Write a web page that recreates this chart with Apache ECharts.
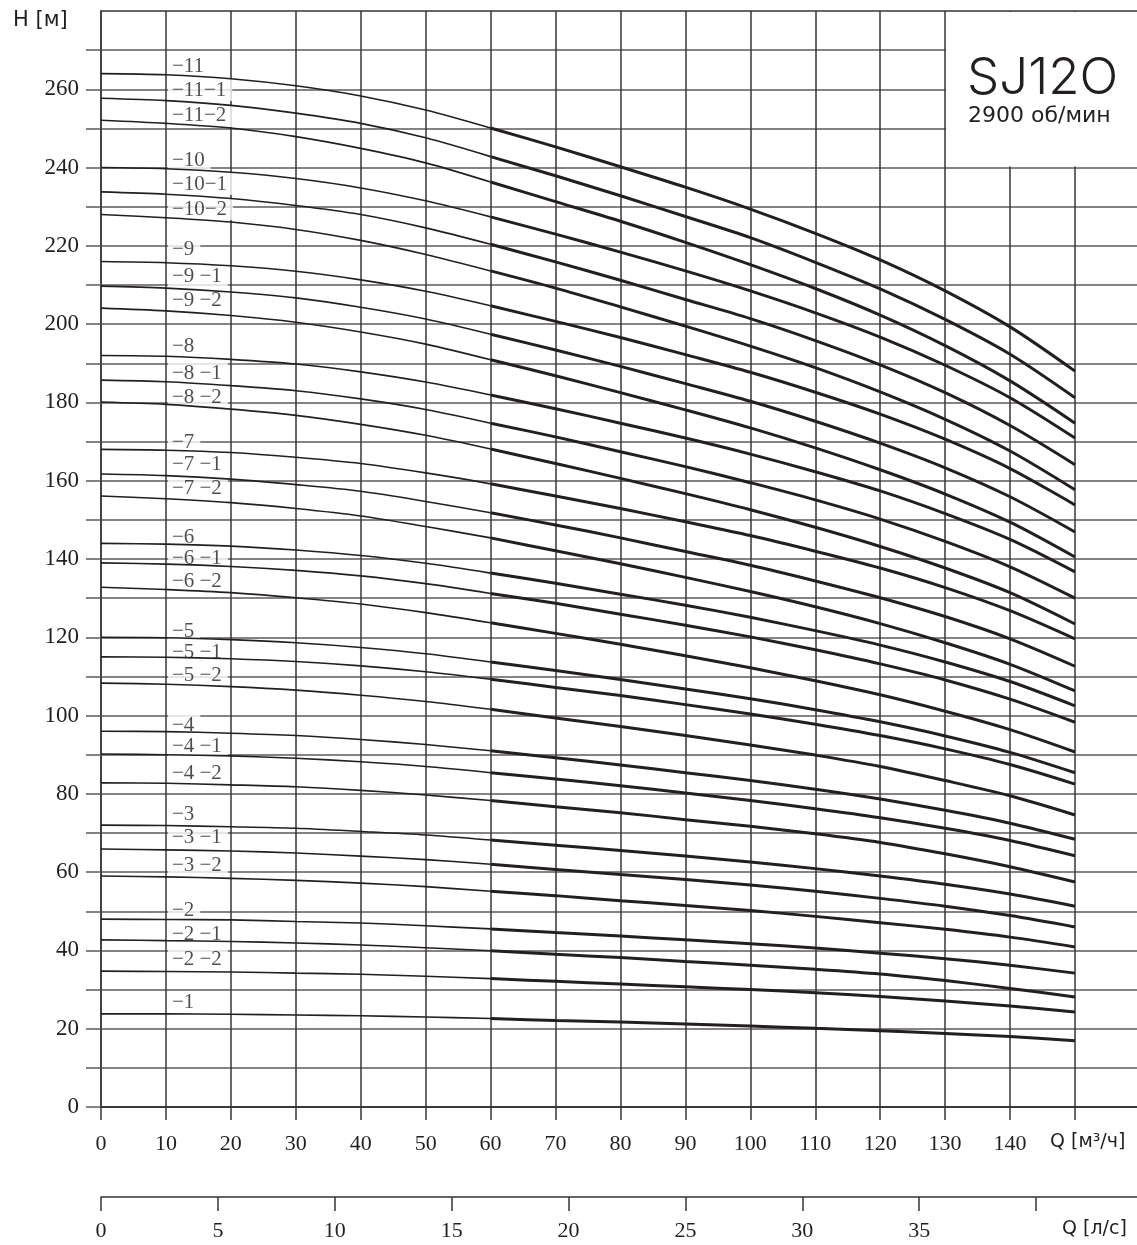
<!DOCTYPE html>
<html><head><meta charset="utf-8">
<script src="https://cdn.jsdelivr.net/npm/echarts@6/dist/echarts.min.js"></script>
<style>html,body{margin:0;padding:0;background:#fff}#c{width:1137px;height:1245px}</style>
</head><body><div id="c"></div>
<script>
// ---- data ----
const Q = [0, 10, 20, 30, 40, 50, 60, 70, 80, 90, 100, 110, 120, 130, 140, 150];   // m3/h
const curveNames = ['−11','−11−1','−11−2','−10','−10−1','−10−2','−9','−9 −1','−9 −2','−8','−8 −1','−8 −2',
  '−7','−7 −1','−7 −2','−6','−6 −1','−6 −2','−5','−5 −1','−5 −2','−4','−4 −1','−4 −2','−3','−3 −1','−3 −2',
  '−2','−2 −1','−2 −2','−1'];
const H_11   = [264, 263.7, 262.7, 260.9, 258.3, 254.7, 250.1, 245.3, 240.2, 235, 229.4, 223.2, 216.4, 208.5, 199.3, 188];
const H_11_1 = [257.7, 257.1, 255.9, 253.9, 251.3, 247.6, 242.8, 237.9, 232.8, 227.5, 222.1, 215.8, 209, 201.2, 192.3, 181.2];
const H_11_2 = [252.1, 251.3, 250.1, 247.9, 244.9, 241.2, 236.3, 231.3, 226.3, 220.9, 215.2, 209.1, 202.3, 194.5, 185.5, 174.7];
const H_10   = [240, 239.7, 238.8, 237.2, 234.8, 231.5, 227.4, 223, 218.4, 213.6, 208.5, 202.9, 196.7, 189.5, 181.2, 170.9];
const H_10_1 = [233.8, 233.2, 232.1, 230.3, 228, 224.6, 220.4, 215.9, 211.2, 206.3, 201.4, 195.8, 189.6, 182.5, 174.1, 164.1];
const H_10_2 = [228, 227.2, 226.1, 224.2, 221.4, 217.8, 213.6, 209.2, 204.4, 199.5, 194.4, 188.9, 182.7, 175.7, 167.6, 157.7];
const H_9    = [216, 215.7, 214.9, 213.5, 211.3, 208.4, 204.7, 200.7, 196.6, 192.2, 187.7, 182.6, 177, 170.6, 163.1, 153.8];
const H_9_1  = [209.7, 209.2, 208.2, 206.7, 204.3, 201.3, 197.4, 193.4, 189.2, 184.8, 180.3, 175.2, 169.6, 163.3, 155.9, 146.9];
const H_9_2  = [204.1, 203.4, 202.2, 200.5, 198, 194.9, 190.9, 186.8, 182.5, 178.1, 173.5, 168.4, 162.8, 156.6, 149.4, 140.5];
const H_8    = [192, 191.8, 191, 189.8, 187.8, 185.2, 181.9, 178.4, 174.7, 170.9, 166.8, 162.3, 157.4, 151.6, 145, 136.7];
const H_8_1  = [185.7, 185.3, 184.3, 183, 180.9, 178.2, 174.7, 171.2, 167.4, 163.6, 159.5, 155.1, 150.2, 144.5, 138, 130];
const H_8_2  = [180.1, 179.5, 178.3, 176.7, 174.4, 171.6, 168.1, 164.4, 160.6, 156.7, 152.6, 148.1, 143.2, 137.7, 131.4, 123.4];
const H_7    = [168, 167.8, 167.2, 166, 164.4, 162, 159.2, 156.1, 152.9, 149.5, 146, 142, 137.7, 132.7, 126.8, 119.6];
const H_7_1  = [161.7, 161.3, 160.4, 159, 157.3, 154.7, 151.8, 148.7, 145.4, 141.9, 138.4, 134.4, 130.1, 125.3, 119.6, 112.6];
const H_7_2  = [156.1, 155.4, 154.4, 152.9, 151, 148.3, 145.4, 142.1, 138.8, 135.3, 131.7, 127.8, 123.5, 118.6, 113.1, 106.3];
const H_6    = [144, 143.8, 143.3, 142.3, 140.9, 138.9, 136.4, 133.8, 131, 128.2, 125.1, 121.7, 118, 113.7, 108.7, 102.5];
const H_6_1  = [139, 138.7, 138.1, 137.1, 135.7, 133.7, 131.2, 128.7, 125.9, 123.1, 120.1, 116.8, 113.2, 109.1, 104.2, 98.3];
const H_6_2  = [132.8, 132.2, 131.4, 130.1, 128.5, 126.3, 123.7, 121, 118.2, 115.3, 112.2, 108.9, 105.3, 101.1, 96.4, 90.7];
const H_5    = [120, 119.9, 119.4, 118.6, 117.4, 115.8, 113.7, 111.5, 109.2, 106.8, 104.3, 101.5, 98.4, 94.8, 90.6, 85.4];
const H_5_1  = [115, 114.9, 114.5, 113.8, 112.7, 111.2, 109.3, 107.2, 105.1, 102.8, 100.4, 97.8, 94.9, 91.5, 87.5, 82.5];
const H_5_2  = [108.3, 108, 107.4, 106.5, 105.2, 103.6, 101.6, 99.4, 97.2, 94.9, 92.5, 89.9, 87, 83.4, 79.5, 74.6];
const H_4    = [96, 95.9, 95.5, 94.9, 93.9, 92.6, 91, 89.2, 87.4, 85.4, 83.4, 81.2, 78.7, 75.8, 72.5, 68.4];
const H_4_1  = [90.2, 90, 89.7, 89.1, 88.2, 87, 85.4, 83.8, 82.1, 80.2, 78.3, 76.2, 73.9, 71.2, 68.1, 64.2];
const H_4_2  = [82.8, 82.7, 82.3, 81.8, 80.9, 79.7, 78.3, 76.7, 75.2, 73.4, 71.7, 69.8, 67.6, 64.7, 61.4, 57.5];
const H_3    = [72, 71.9, 71.6, 71.2, 70.4, 69.5, 68.2, 66.9, 65.5, 64.1, 62.6, 60.9, 59, 56.9, 54.4, 51.3];
const H_3_1  = [65.9, 65.7, 65.4, 64.9, 64.1, 63.2, 62, 60.7, 59.4, 58.1, 56.7, 55.1, 53.3, 51.3, 48.9, 46];
const H_3_2  = [59, 58.8, 58.4, 57.9, 57.2, 56.3, 55.1, 54, 52.7, 51.5, 50.2, 48.7, 47.1, 45.4, 43.4, 40.9];
const H_2    = [48, 47.9, 47.8, 47.4, 47, 46.3, 45.5, 44.6, 43.7, 42.7, 41.7, 40.6, 39.3, 37.9, 36.2, 34.2];
const H_2_1  = [42.7, 42.5, 42.3, 41.9, 41.4, 40.7, 39.9, 39, 38.2, 37.2, 36.2, 35.2, 34, 32.3, 30.3, 28.1];
const H_2_2  = [34.7, 34.6, 34.5, 34.2, 33.9, 33.4, 32.8, 32.1, 31.4, 30.7, 30, 29.2, 28.2, 27.1, 25.8, 24.3];
const H_1    = [23.8, 23.8, 23.7, 23.5, 23.3, 23, 22.6, 22.1, 21.7, 21.2, 20.7, 20.1, 19.5, 18.8, 18, 16.9];
const curveH = [H_11,H_11_1,H_11_2,H_10,H_10_1,H_10_2,H_9,H_9_1,H_9_2,H_8,H_8_1,H_8_2,H_7,H_7_1,H_7_2,
  H_6,H_6_1,H_6_2,H_5,H_5_1,H_5_2,H_4,H_4_1,H_4_2,H_3,H_3_1,H_3_2,H_2,H_2_1,H_2_2,H_1];
// head value at which each curve's name tag sits (at Q = 10)
const labelH = [265.9,259.8,253.2,241.7,235.8,229.4,219.2,212.3,206,194.2,187.4,181.2,169.8,164.2,158,
  145.6,140.2,134.2,121.4,116.1,110.2,97.5,92,85.1,74.8,68.9,61.8,50.3,44.2,37.6,26.7];
const labelQ = 10;
const xTicks = [0,10,20,30,40,50,60,70,80,90,100,110,120,130,140,150];
const xLabels = [0,10,20,30,40,50,60,70,80,90,100,110,120,130,140];
const yTicks = [0,10,20,30,40,50,60,70,80,90,100,110,120,130,140,150,160,170,180,190,200,210,220,230,240,250,260,270];
const yLabels = [0,20,40,60,80,100,120,140,160,180,200,220,240,260];
const lsTicks = [0,5,10,15,20,25,30,35,40];
const lsLabels = [0,5,10,15,20,25,30,35];
const opStart = 60;   // start of the bold (working) part of each curve
const Q_MAX = 159.55, H_MAX = 280, M3H_PER_LS = 3.6;

// ---- chart ----
const ink = '#231f20';
const chart = echarts.init(document.getElementById('c'), null, {renderer: 'canvas'});
const series = [];
curveH.forEach((H, i) => {
  const pts = Q.map((q, k) => [q, H[k]]);
  series.push({type: 'line', xAxisIndex: 0, yAxisIndex: 0, smooth: 0.3, symbol: 'none', silent: true, z: 3,
    lineStyle: {color: ink, width: 1.6}, data: pts.filter(p => p[0] <= opStart)});
  series.push({type: 'line', xAxisIndex: 0, yAxisIndex: 0, smooth: 0.3, symbol: 'none', silent: true, z: 3,
    lineStyle: {color: ink, width: 3}, data: pts.filter(p => p[0] >= opStart)});
});
series.push({type: 'scatter', xAxisIndex: 0, yAxisIndex: 0, symbolSize: 0, silent: true, z: 2,
  data: curveNames.map((n, i) => ({value: [labelQ, labelH[i]], name: n})),
  label: {show: true, position: 'right', distance: 2, formatter: p => p.name,
    fontFamily: 'Liberation Serif', fontSize: 21, color: ink, backgroundColor: '#fff', padding: [1, 6, 0, 4]}});

const serif = 'Liberation Serif';
chart.setOption({
  animation: false,
  backgroundColor: '#fff',
  grid: [{left: 101, right: 0, top: 11, bottom: 138},
         {left: 101, right: 0, top: 1196, height: 1}],
  xAxis: [
    {type: 'value', gridIndex: 0, min: 0, max: Q_MAX, position: 'bottom',
     axisLine: {show: true, lineStyle: {color: ink, width: 1.5}},
     axisTick: {show: true, customValues: xTicks, length: 13, lineStyle: {color: '#3a3536', width: 1.5}},
     axisLabel: {customValues: xLabels, margin: 26, fontFamily: serif, fontSize: 22, color: ink},
     splitLine: {show: true, lineStyle: {color: '#3a3536', width: 1.5}}},
    {type: 'value', gridIndex: 0, min: 0, max: Q_MAX, position: 'top',
     axisLine: {show: true, lineStyle: {color: '#3a3536', width: 1.5}},
     axisTick: {show: false}, axisLabel: {show: false}, splitLine: {show: false}},
    {type: 'value', gridIndex: 1, min: 0, max: Q_MAX / M3H_PER_LS, position: 'bottom',
     axisLine: {show: true, lineStyle: {color: '#3a3536', width: 1.5}},
     axisTick: {show: true, customValues: lsTicks, length: 14, lineStyle: {color: '#3a3536', width: 1.5}},
     axisLabel: {customValues: lsLabels, margin: 23, fontFamily: serif, fontSize: 22, color: ink},
     splitLine: {show: false}}
  ],
  yAxis: [
    {type: 'value', gridIndex: 0, min: 0, max: H_MAX,
     axisLine: {show: true, lineStyle: {color: '#3a3536', width: 1.5}},
     axisTick: {show: true, customValues: yTicks, length: 15, lineStyle: {color: '#5f5a5a', width: 1.5}},
     axisLabel: {customValues: yLabels, margin: 22, fontFamily: serif, fontSize: 23, color: ink},
     splitLine: {show: true, lineStyle: {color: '#5f5a5a', width: 1.5}}},
    {type: 'value', gridIndex: 1, min: 0, max: 1, show: false}
  ],
  series: series
});

// title box and unit captions
const px130 = chart.convertToPixel({xAxisIndex: 0}, 130);
const py240 = chart.convertToPixel({yAxisIndex: 0}, 240);
const pyTop = chart.convertToPixel({yAxisIndex: 0}, H_MAX);
chart.setOption({graphic: [
  {type: 'rect', z: 5, shape: {x: px130 + 1, y: pyTop + 1, width: 1137 - px130, height: py240 - pyTop - 2}, style: {fill: '#fff'}},
  {type: 'text', z: 6, left: 967, top: 53, style: {text: 'SJ12O', font: '300 51px Inter', fill: ink}},
  {type: 'text', z: 6, left: 968, top: 105, style: {text: '2900 об/мин', font: '22px "DejaVu Sans"', fill: ink}},
  {type: 'text', z: 6, left: 13, top: 10, style: {text: 'H [м]', font: '21px "DejaVu Sans"', fill: ink}},
  {type: 'text', z: 6, left: 1050, top: 1133, style: {text: 'Q [м³/ч]', font: '19px "DejaVu Sans"', fill: ink}},
  {type: 'text', z: 6, left: 1062, top: 1220, style: {text: 'Q [л/с]', font: '19px "DejaVu Sans"', fill: ink}}
]});
</script></body></html>
